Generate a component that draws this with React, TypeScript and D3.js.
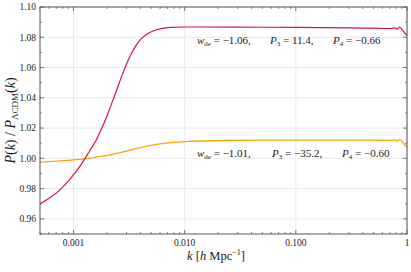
import React from "react";
import * as d3 from "d3";

const kRed = [0.0005, 0.0006, 0.0007, 0.0008, 0.0009, 0.001, 0.0012, 0.00127, 0.0014, 0.0016, 0.0018, 0.002, 0.0024, 0.0028, 0.0032, 0.0036, 0.004, 0.0046, 0.0055, 0.0074, 0.01, 0.03, 0.1, 0.3, 0.5, 0.72, 0.77, 0.82, 0.86, 0.9, 0.95, 1.0];
const pRed = [0.970, 0.9735, 0.977, 0.981, 0.985, 0.989, 0.997, 1.0, 1.005, 1.012, 1.020, 1.028, 1.0435, 1.0568, 1.067, 1.0738, 1.0785, 1.0822, 1.0848, 1.0865, 1.0868, 1.0867, 1.0865, 1.0862, 1.086, 1.0858, 1.0862, 1.0855, 1.0868, 1.0852, 1.083, 1.081];

const kOrange = [0.0005, 0.0007, 0.001, 0.00127, 0.0016, 0.00213, 0.0025, 0.003, 0.0035, 0.0045, 0.006, 0.008, 0.01, 0.0208, 0.05, 0.1, 0.3, 0.5, 0.72, 0.77, 0.82, 0.86, 0.9, 0.95, 1.0];
const pOrange = [0.9975, 0.9982, 0.999, 0.9997, 1.0008, 1.0023, 1.0034, 1.0048, 1.0061, 1.0079, 1.0095, 1.0105, 1.011, 1.0118, 1.012, 1.012, 1.012, 1.012, 1.0119, 1.0122, 1.0116, 1.0124, 1.0113, 1.009, 1.0075];

const xTicks = [0.001, 0.01, 0.1, 1];
const xTickLabels = ["0.001", "0.010", "0.100", "1"];
const yTicks = [0.96, 0.98, 1.0, 1.02, 1.04, 1.06, 1.08, 1.1];
const yTickLabels = ["0.96", "0.98", "1.00", "1.02", "1.04", "1.06", "1.08", "1.10"];
const yMinor = [0.95, 0.97, 0.99, 1.01, 1.03, 1.05, 1.07, 1.09];

const W = 411, H = 272;
const L = 40, R = 407, T = 7, B = 234;

export default function App() {
  const x = d3.scaleLog().domain([0.0005, 1]).range([L, R]);
  const y = d3.scaleLinear().domain([0.95, 1.1]).range([B, T]);
  const xMinor: number[] = [];
  for (let e = -4; e < 0; e++) {
    for (let m = 2; m <= 9; m++) {
      const v = m * Math.pow(10, e);
      if (v >= 0.0005 && v <= 1) xMinor.push(v);
    }
  }
  const line = d3.line<[number, number]>().x(d => x(d[0])).y(d => y(d[1])).curve(d3.curveMonotoneX);
  const redPts = kRed.map((k, i) => [k, pRed[i]] as [number, number]);
  const orPts = kOrange.map((k, i) => [k, pOrange[i]] as [number, number]);
  const font = "'Liberation Serif', 'DejaVu Serif', serif";
  const axisCol = "#555";
  const gridCol = "#e4e4e4";
  const ann = (yb: number, segs: { x: number; parts: React.ReactNode }[]) =>
    segs.map((s, i) => (
      <text key={i} x={s.x} y={yb} fontSize={11} fontFamily={font} fill="#222">{s.parts}</text>
    ));
  return (
    <svg width={W} height={H} style={{ position: "absolute", left: 0, top: 0 }} fontFamily={font}>
      <rect x={0} y={0} width={W} height={H} fill="#fff" />
      {xTicks.map((t, i) => (
        <line key={"gx" + i} x1={x(t)} x2={x(t)} y1={T} y2={B} stroke={gridCol} strokeWidth={0.8} />
      ))}
      {yTicks.map((t, i) => (
        <line key={"gy" + i} x1={L} x2={R} y1={y(t)} y2={y(t)} stroke={gridCol} strokeWidth={0.8} />
      ))}
      <path d={line(orPts) || ""} fill="none" stroke="#ffa500" strokeWidth={1.3} />
      <path d={line(redPts) || ""} fill="none" stroke="#dc143c" strokeWidth={1.2} />
      <rect x={L} y={T} width={R - L} height={B - T} fill="none" stroke={axisCol} strokeWidth={1} />
      {xTicks.map((t, i) => (
        <g key={"xt" + i}>
          <line x1={x(t)} x2={x(t)} y1={B} y2={B - 4} stroke={axisCol} strokeWidth={0.8} />
          <line x1={x(t)} x2={x(t)} y1={T} y2={T + 4} stroke={axisCol} strokeWidth={0.8} />
          <text x={x(t)} y={246} fontSize={9.5} textAnchor="middle" fill="#222">{xTickLabels[i]}</text>
        </g>
      ))}
      {xMinor.map((t, i) => (
        <g key={"xm" + i}>
          <line x1={x(t)} x2={x(t)} y1={B} y2={B - 2} stroke={axisCol} strokeWidth={0.7} />
          <line x1={x(t)} x2={x(t)} y1={T} y2={T + 2} stroke={axisCol} strokeWidth={0.7} />
        </g>
      ))}
      {yTicks.map((t, i) => (
        <g key={"yt" + i}>
          <line x1={L} x2={L + 4} y1={y(t)} y2={y(t)} stroke={axisCol} strokeWidth={0.8} />
          <line x1={R} x2={R - 4} y1={y(t)} y2={y(t)} stroke={axisCol} strokeWidth={0.8} />
          <text x={36} y={y(t) + 3.3} fontSize={9.5} textAnchor="end" fill="#222">{yTickLabels[i]}</text>
        </g>
      ))}
      {yMinor.map((t, i) => (
        <g key={"ym" + i}>
          <line x1={L} x2={L + 2} y1={y(t)} y2={y(t)} stroke={axisCol} strokeWidth={0.7} />
          <line x1={R} x2={R - 2} y1={y(t)} y2={y(t)} stroke={axisCol} strokeWidth={0.7} />
        </g>
      ))}
      {ann(44, [
        { x: 197, parts: <><tspan fontStyle="italic">w</tspan><tspan fontSize={7} dy={2}>de</tspan><tspan dy={-2}> = −1.06,</tspan></> },
        { x: 270, parts: <><tspan fontStyle="italic">P</tspan><tspan fontSize={7} dy={2}>3</tspan><tspan dy={-2}> = 11.4,</tspan></> },
        { x: 333, parts: <><tspan fontStyle="italic">P</tspan><tspan fontSize={7} dy={2}>4</tspan><tspan dy={-2}> = −0.66</tspan></> },
      ])}
      {ann(157, [
        { x: 197, parts: <><tspan fontStyle="italic">w</tspan><tspan fontSize={7} dy={2}>de</tspan><tspan dy={-2}> = −1.01,</tspan></> },
        { x: 272, parts: <><tspan fontStyle="italic">P</tspan><tspan fontSize={7} dy={2}>3</tspan><tspan dy={-2}> = −35.2,</tspan></> },
        { x: 342, parts: <><tspan fontStyle="italic">P</tspan><tspan fontSize={7} dy={2}>4</tspan><tspan dy={-2}> = −0.60</tspan></> },
      ])}
      <text x={216} y={260} fontSize={12.5} textAnchor="middle" fill="#222">
        <tspan fontStyle="italic">k</tspan> [<tspan fontStyle="italic">h</tspan> Mpc<tspan fontSize={8} dy={-5}>−1</tspan><tspan dy={5}>]</tspan>
      </text>
      <text transform={`translate(15,${(T + B) / 2}) rotate(-90)`} fontSize={14} textAnchor="middle" fill="#222">
        <tspan fontStyle="italic">P</tspan>(<tspan fontStyle="italic">k</tspan>) / <tspan fontStyle="italic">P</tspan><tspan fontSize={9} dy={3}>ΛCDM</tspan><tspan dy={-3}>(</tspan><tspan fontStyle="italic">k</tspan>)
      </text>
    </svg>
  );
}
